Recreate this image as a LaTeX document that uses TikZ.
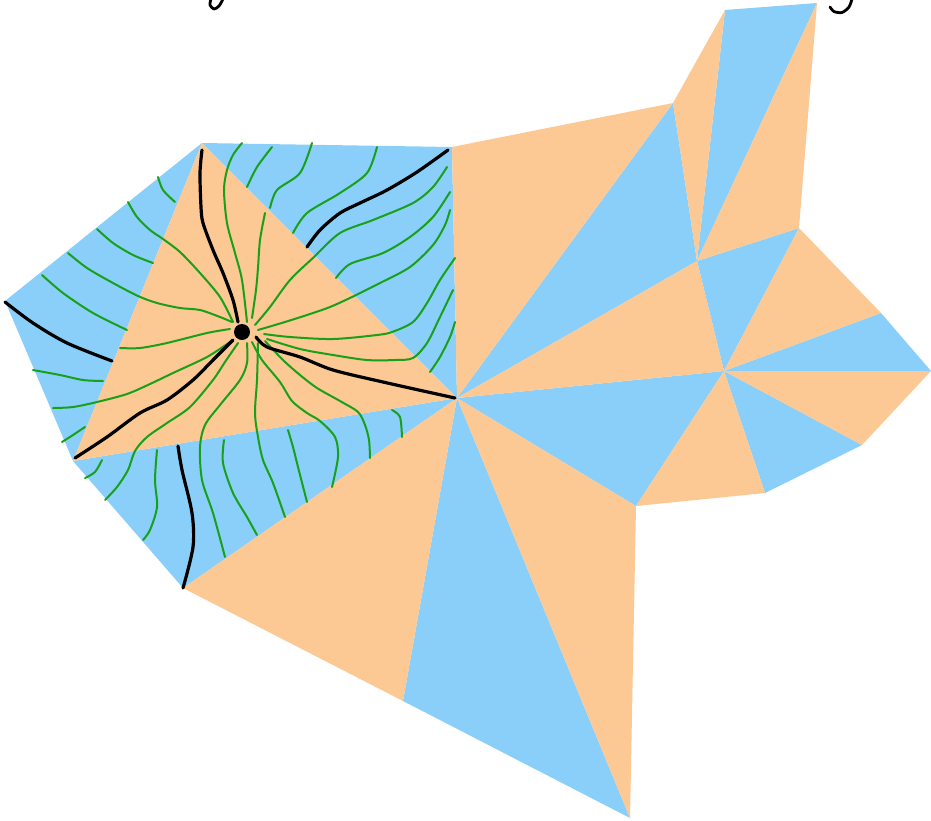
\documentclass[tikz,border=0pt]{standalone}
\usetikzlibrary{calc}
\definecolor{skyb}{RGB}{137,207,250}
\definecolor{peach}{RGB}{252,200,147}
\definecolor{flowg}{RGB}{25,160,25}
\tikzset{
  bluetri/.style={fill=skyb},
  orangetri/.style={fill=peach},
  flow/.style={draw=flowg, line width=2.0pt, line cap=round, line join=round},
  sep/.style={draw=black, line width=3.2pt, line cap=round, line join=round},
  inkstroke/.style={draw=black, line width=2.8pt, line cap=round, line join=round}
}
\begin{document}
\begin{tikzpicture}[x=1pt,y=-1pt]
\useasboundingbox (0,0) rectangle (931,820);
% vertices
\coordinate (A) at (202,143);
\coordinate (B) at (452,147);
\coordinate (C) at (457,398);
\coordinate (D) at (73,461);
\coordinate (E) at (5,301);
\coordinate (F) at (183,588);
\coordinate (G) at (403,701);
\coordinate (H) at (630,818);
\coordinate (I) at (636,506);
\coordinate (J) at (724,371);
\coordinate (K) at (765,493);
\coordinate (L) at (862,445);
\coordinate (M) at (931,371);
\coordinate (N) at (881,313);
\coordinate (O) at (799,228);
\coordinate (P) at (697,261);
\coordinate (Q) at (673,103);
\coordinate (R) at (725,10);
\coordinate (S) at (817,3);
\coordinate (Z) at (242,332);
% blue triangles
\fill[bluetri] (A)--(B)--(C)--cycle;
\fill[bluetri] (E)--(A)--(D)--cycle;
\fill[bluetri] (D)--(C)--(F)--cycle;
\fill[bluetri] (C)--(G)--(H)--cycle;
\fill[bluetri] (C)--(I)--(J)--cycle;
\fill[bluetri] (J)--(K)--(L)--cycle;
\fill[bluetri] (J)--(M)--(N)--cycle;
\fill[bluetri] (J)--(O)--(P)--cycle;
\fill[bluetri] (C)--(P)--(Q)--cycle;
\fill[bluetri] (P)--(R)--(S)--cycle;
% orange triangles
\fill[orangetri] (A)--(C)--(D)--cycle;
\fill[orangetri] (C)--(F)--(G)--cycle;
\fill[orangetri] (C)--(H)--(I)--cycle;
\fill[orangetri] (I)--(J)--(K)--cycle;
\fill[orangetri] (J)--(L)--(M)--cycle;
\fill[orangetri] (J)--(N)--(O)--cycle;
\fill[orangetri] (C)--(J)--(P)--cycle;
\fill[orangetri] (C)--(Q)--(B)--cycle;
\fill[orangetri] (P)--(Q)--(R)--cycle;
\fill[orangetri] (P)--(S)--(O)--cycle;
% green flow lines: central triangle and continuations
\draw[flow] plot[smooth] coordinates {(247,322) (242,280) (235,253) (227,223) (224,190) (227,170) (233,155) (242,143)};
\draw[flow] plot[smooth] coordinates {(252,318) (256,290) (258,268) (260,240) (265,213)};
\draw[flow] plot[smooth] coordinates {(255,325) (270,307) (290,280) (314,257) (340,233) (373,220) (413,203) (433,187) (447,167)};
\draw[flow] plot[smooth] coordinates {(258,330) (285,322) (310,314) (330,307) (352,297) (380,283) (410,267) (433,245) (445,225) (450,210)};
\draw[flow] plot[smooth] coordinates {(264,334) (290,337) (333,339) (377,335) (392,332) (413,322) (427,303) (440,280) (455,258)};
\draw[flow] plot[smooth] coordinates {(267,339) (300,349) (333,355) (367,360) (395,360) (413,358) (427,343) (440,317) (453,290)};
\draw[flow] plot[smooth] coordinates {(265,341) (283,360) (300,375) (317,388) (340,401) (358,412) (365,425) (369,440) (370,458)};
\draw[flow] plot[smooth] coordinates {(252,342) (262,360) (280,382) (292,401) (307,413) (320,421) (335,437) (338,457) (332,487)};
\draw[flow] plot[smooth] coordinates {(258,343) (257,380) (255,413) (258,437) (263,460) (273,483) (285,517)};
\draw[flow] plot[smooth] coordinates {(247,343) (247,363) (240,380) (220,405) (205,425) (200,447) (202,480) (213,513) (225,557)};
\draw[flow] plot[smooth] coordinates {(238,343) (225,362) (213,380) (190,407) (167,423) (147,437) (135,451) (128,470) (117,487) (105,500)};
\draw[flow] plot[smooth] coordinates {(230,342) (207,357) (173,373) (150,384) (127,394) (97,402) (73,407) (53,408)};
\draw[flow] plot[smooth] coordinates {(230,329) (207,333) (167,343) (140,348) (120,348)};
\draw[flow] plot[smooth] coordinates {(232,322) (220,317) (200,310) (180,308) (157,303) (138,296) (113,283) (87,268) (68,253)};
\draw[flow] plot[smooth] coordinates {(233,322) (220,297) (200,273) (180,252) (163,239) (150,230) (137,217) (128,202)};
% green flow lines: top blue region
\draw[flow] plot[smooth] coordinates {(247,187) (257,167) (272,147)};
\draw[flow] plot[smooth] coordinates {(270,208) (277,190) (300,173) (312,143)};
\draw[flow] plot[smooth] coordinates {(293,233) (307,213) (340,193) (367,173) (377,147)};
\draw[flow] plot[smooth] coordinates {(336,278) (350,264) (383,253) (410,237) (433,217) (450,192)};
\draw[flow] plot[smooth] coordinates {(430,372) (440,357) (450,337) (455,322)};
% green flow lines: left blue region
\draw[flow] plot[smooth] coordinates {(158,177) (163,190) (175,202)};
\draw[flow] plot[smooth] coordinates {(97,229) (113,243) (133,255) (153,263)};
\draw[flow] plot[smooth] coordinates {(42,275) (63,293) (93,313) (127,330)};
\draw[flow] plot[smooth] coordinates {(33,370) (60,375) (83,380) (103,381)};
\draw[flow] plot[smooth] coordinates {(62,442) (73,435) (85,427)};
% green flow lines: bottom blue region
\draw[flow] plot[smooth] coordinates {(102,460) (95,472) (85,478)};
\draw[flow] plot[smooth] coordinates {(157,450) (155,480) (157,507) (150,530) (143,540)};
\draw[flow] plot[smooth] coordinates {(224,440) (223,463) (233,493) (247,517) (257,535)};
\draw[flow] plot[smooth] coordinates {(288,430) (293,447) (298,467) (307,502)};
\draw[flow] plot[smooth] coordinates {(392,410) (400,417) (402,437)};
% black separatrices
\draw[sep] plot[smooth] coordinates {(238,322) (233,300) (223,273) (213,250) (203,223) (201,207) (200,173) (202,150)};
\draw[sep] plot[smooth] coordinates {(233,340) (213,360) (193,380) (167,400) (140,413) (107,437) (75,458)};
\draw[sep] plot[smooth] coordinates {(256,337) (267,347) (300,357) (333,370) (383,382) (455,398)};
\draw[sep] plot[smooth] coordinates {(5,302) (33,323) (67,343) (112,361)};
\draw[sep] plot[smooth] coordinates {(307,247) (320,230) (340,213) (360,203) (387,190) (417,172) (448,150)};
\draw[sep] plot[smooth] coordinates {(178,446) (182,470) (192,513) (193,547) (183,588)};
\fill[black] (Z) circle (8);
% cut-off strokes of lettering at the top edge
\draw[inkstroke] plot[smooth] coordinates {(211,-1) (210,5) (214,9) (219,6) (223,-1)};
\draw[inkstroke] plot[smooth] coordinates {(852,-1) (849,7) (842,12.5) (834,11.5) (830,7)};
\end{tikzpicture}
\end{document}
